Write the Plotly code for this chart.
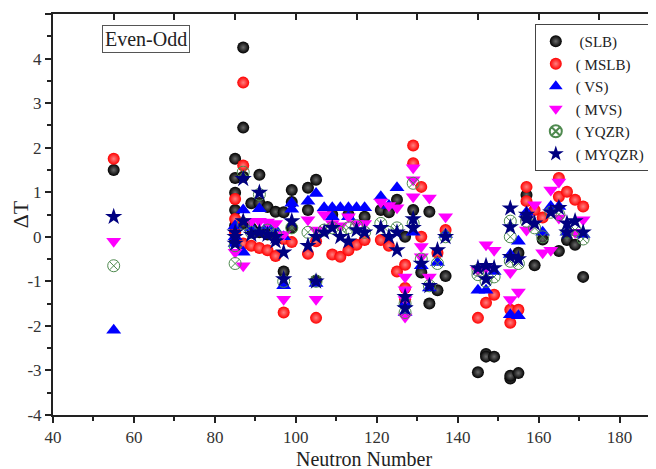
import plotly.graph_objects as go

# ---------------- data ----------------
slb_n = [55, 85, 85, 85, 85, 85, 85, 87, 87, 87, 87, 89, 89, 91, 91, 91, 93, 93, 95, 95, 97, 97,
         99, 99, 99, 103, 103, 105, 105, 109, 113, 117, 121, 123, 125, 127, 129, 131, 133, 133,
         135, 137, 145, 147, 147, 149, 153, 153, 155, 155, 157, 157, 159, 161, 165, 167, 169, 171]
slb_dt = [1.5, 1.75, 1.32, 0.99, 0.6, 0.25, -0.1, 4.25, 2.45, 1.35, 0.3, 0.75, 0.2, 1.39, 0.76, 0.1,
          0.67, 0.05, 0.56, 0.0, 0.55, -0.78, 1.05, 0.78, 0.2, 1.1, 0.6, 1.28, -0.98, 0.5, 0.5, 0.45,
          0.6, 0.55, 0.83, 0.0, 0.6, -0.8, 0.56, -1.5, -1.2, -0.88, -3.04, -2.63, -2.69, -2.69,
          -3.18, -3.12, -3.06, -0.36, 0.94, 0.45, -0.64, -0.06, -0.32, -0.07, -0.18, -0.9]

mslb_n = [55, 85, 85, 85, 87, 87, 87, 89, 91, 93, 95, 97, 97, 99, 103, 105, 105, 109, 111, 113,
          115, 117, 121, 123, 125, 127, 127, 127, 129, 129, 131, 131, 135, 137, 145, 147, 149,
          153, 153, 155, 157, 157, 159, 161, 165, 165, 167, 169, 171]
mslb_dt = [1.75, 0.85, 0.4, 0.1, 3.46, 1.6, -0.15, -0.2, -0.25, -0.3, -0.43, -1.7, -0.05, -0.12,
           -0.38, -0.1, -1.82, -0.4, -0.45, -0.3, -0.18, -0.07, -0.07, -0.2, -0.78, -0.63, -1.15,
           -1.4, 2.05, 1.65, 1.12, 0.0, -0.36, 0.15, -1.82, -1.48, -1.3, -1.64, -1.93, -1.64,
           1.12, 0.8, 0.6, 0.43, 1.32, 0.9, 1.01, 0.83, 0.68]

vs_n = [55, 85, 85, 85, 87, 87, 89, 91, 93, 95, 97, 97, 99, 99, 103, 105, 105, 107, 109, 111,
        113, 115, 117, 109, 113, 121, 123, 125, 127, 127, 129, 131, 133, 135, 137, 145, 147,
        149, 153, 153, 155, 155, 157, 161, 163, 165, 167, 171]
vs_dt = [-2.1, 0.25, 0.0, -0.15, 0.6, -0.35, 0.2, 0.63, 0.25, 0.15, 0.0, -1.1, 0.75, 0.62, 0.8,
         0.97, -1.05, 0.65, 0.65, 0.65, 0.65, 0.65, 0.65, 0.45, 0.45, 0.9, 0.7, 1.1, -1.7, -1.5,
         0.1, -0.65, -1.15, -0.58, 0.05, -1.2, -1.2, -0.78, -1.75, -0.4, -1.77, -0.1, 0.55, 0.1,
         0.68, 0.68, 0.1, 0.05]

mvs_n = [55, 85, 87, 89, 91, 93, 95, 97, 97, 103, 105, 105, 107, 109, 111, 113, 115, 117, 121,
         123, 125, 127, 127, 127, 127, 129, 129, 129, 131, 131, 133, 133, 137, 145, 147, 147,
         149, 153, 153, 155, 157, 159, 161, 163, 163, 165, 165, 169, 171]
mvs_dt = [-0.1, -0.35, -0.65, 0.35, 0.35, 0.33, 0.3, -1.4, 0.05, 0.38, 0.15, -1.4, 0.5, 0.3, 0.25,
          0.45, 0.3, 0.3, 0.78, 0.7, 0.65, -0.9, -1.19, -1.41, -1.8, 1.55, 1.28, 0.9, -0.22, -0.45,
          0.87, -0.9, 0.45, -0.75, -0.18, -0.7, -0.3, -0.8, -1.41, -1.24, 0.15, 0.72, -0.36, 1.05,
          -0.3, 1.23, 0.42, 0.1, 0.38]

yqzr_n = [55, 85, 85, 87, 87, 89, 91, 93, 95, 97, 99, 103, 105, 107, 109, 111, 113, 115, 117,
          121, 123, 125, 127, 127, 129, 129, 131, 133, 135, 137, 145, 145, 147, 149, 153, 153,
          153, 155, 157, 159, 161, 163, 165, 167, 169, 171]
yqzr_dt = [-0.65, -0.6, -0.2, 0.3, 1.45, 0.1, 0.95, 0.15, 0.05, -1.0, 0.2, 0.1, -1.0, 0.15, 0.2,
           0.1, 0.2, 0.25, 0.1, 0.3, 0.1, 0.2, -1.5, -1.7, 1.2, 0.3, -0.5, -1.1, -0.6, 0.0, -0.75,
           -0.85, -1.0, -0.9, 0.35, 0.0, -0.55, -0.6, 0.35, 0.2, 0.0, 0.55, 0.5, 0.1, 0.15, -0.05]

myqzr_n = [55, 85, 85, 85, 87, 87, 89, 91, 91, 93, 95, 95, 97, 97, 99, 103, 105, 105, 107, 109,
           111, 113, 115, 117, 121, 123, 125, 125, 127, 127, 129, 129, 131, 133, 135, 137, 145,
           147, 147, 149, 153, 153, 153, 155, 157, 157, 159, 163, 165, 167, 167, 169, 171]
myqzr_dt = [0.45, -0.15, 0.0, 0.1, 1.3, 0.35, 0.05, 0.99, 0.1, 0.05, 0.0, -0.1, -0.95, -0.35, 0.35,
            -0.2, -1.0, 0.0, 0.1, 0.2, 0.0, -0.1, 0.15, 0.1, 0.2, 0.0, 0.1, -0.3, -1.6, -1.35, 0.4,
            0.2, -0.6, -1.1, -0.3, 0.0, -0.7, -0.65, -0.95, -0.7, 0.64, 0.22, -0.45, -0.5, 0.5,
            0.4, 0.3, 0.55, 0.65, 0.3, 0.1, 0.35, 0.1]

series_names = [" (SLB)", "( MSLB)", "( VS)", "( MVS)", "( YQZR)", "( MYQZR)"]
x_ticks = [40, 60, 80, 100, 120, 140, 160, 180]
y_ticks = [-4, -3, -2, -1, 0, 1, 2, 3, 4, 5]
y_ticktext = ["-4", "-3", "-2", "-1", "0", "1", "2", "3", "4", "5"]

FONT = "Liberation Serif, Times New Roman, serif"

fig = go.Figure()

fig.add_trace(go.Scatter(x=slb_n, y=slb_dt, mode="markers", name=series_names[0],
                         marker=dict(symbol="circle", size=12, color="black",
                                     gradient=dict(type="radial", color="#6a6a6a"),
                                     line=dict(width=0))))
fig.add_trace(go.Scatter(x=mslb_n, y=mslb_dt, mode="markers", name=series_names[1],
                         marker=dict(symbol="circle", size=12, color="#ff0000",
                                     gradient=dict(type="radial", color="#ff8080"),
                                     line=dict(width=0))))
fig.add_trace(go.Scatter(x=vs_n, y=vs_dt, mode="markers", name=series_names[2],
                         marker=dict(symbol="triangle-up", size=13, color="#0000ff",
                                     line=dict(width=0))))
fig.add_trace(go.Scatter(x=mvs_n, y=mvs_dt, mode="markers", name=series_names[3],
                         marker=dict(symbol="triangle-down", size=13, color="#ff00ff",
                                     line=dict(width=0))))
fig.add_trace(go.Scatter(x=yqzr_n, y=yqzr_dt, mode="markers", name=series_names[4],
                         marker=dict(symbol="circle-x-open", size=12, color="#4f8a4f",
                                     line=dict(width=1, color="#4f8a4f"))))
fig.add_trace(go.Scatter(x=myqzr_n, y=myqzr_dt, mode="markers", name=series_names[5],
                         marker=dict(symbol="star", size=13, color="#000080",
                                     line=dict(width=0))))

# invisible trace to carry the top axis
fig.add_trace(go.Scatter(x=[40, 189], y=[0, 0], xaxis="x2", mode="markers",
                         marker=dict(opacity=0), showlegend=False, hoverinfo="skip"))

# the page body adds an 8 px offset, so the figure is 648 x 461
fig.update_layout(
    width=648, height=461,
    margin=dict(l=45, r=0, t=6, b=54, autoexpand=False),
    paper_bgcolor="white", plot_bgcolor="white",
    font=dict(family=FONT, color="#222", size=16),
    showlegend=True,
    legend=dict(x=0.799, y=0.975, xanchor="left", yanchor="top",
                bgcolor="white", bordercolor="#444", borderwidth=1,
                font=dict(family=FONT, size=15, color="#222"),
                tracegroupgap=0, itemsizing="constant"),
    xaxis=dict(range=[40, 189], tickvals=x_ticks, ticks="outside", ticklen=6, tickwidth=2,
               tickcolor="#222", showline=True, linewidth=2, linecolor="#222",
               showgrid=False, zeroline=False, automargin=False,
               minor=dict(ticks="outside", ticklen=4, tickwidth=1.5, dtick=10, tick0=40,
                          tickcolor="#222"),
               tickfont=dict(family=FONT, size=17, color="#333")),
    xaxis2=dict(range=[40, 189], overlaying="x", side="top", showline=True, linewidth=2,
                linecolor="#222", ticks="inside", ticklen=6, tickwidth=1.5, tickcolor="#222",
                tick0=55, dtick=15, showticklabels=False, showgrid=False, zeroline=False,
                automargin=False),
    yaxis=dict(range=[-4, 5], tickvals=y_ticks, ticktext=y_ticktext, ticks="outside",
               ticklen=6, tickwidth=2, tickcolor="#222", showline=True, linewidth=2,
               linecolor="#222", showgrid=False, zeroline=False, automargin=False,
               minor=dict(ticks="outside", ticklen=4, tickwidth=1.5, dtick=0.5, tick0=0,
                          tickcolor="#222"),
               tickfont=dict(family=FONT, size=17, color="#333"),
               title=dict(text="ΔT", font=dict(family=FONT, size=22, color="#222"),
                          standoff=4)),
    annotations=[dict(x=63, y=4.45, xref="x", yref="y", text="Even-Odd", showarrow=False,
                      font=dict(family=FONT, size=20, color="#222"),
                      bordercolor="#555", borderwidth=1, borderpad=2, bgcolor="white"),
                 dict(x=0.515, y=-0.109, xref="paper", yref="paper", text="Neutron Number",
                      showarrow=False, xanchor="center", yanchor="middle",
                      font=dict(family=FONT, size=20, color="#222"))],
)

fig.write_html("out.html")
